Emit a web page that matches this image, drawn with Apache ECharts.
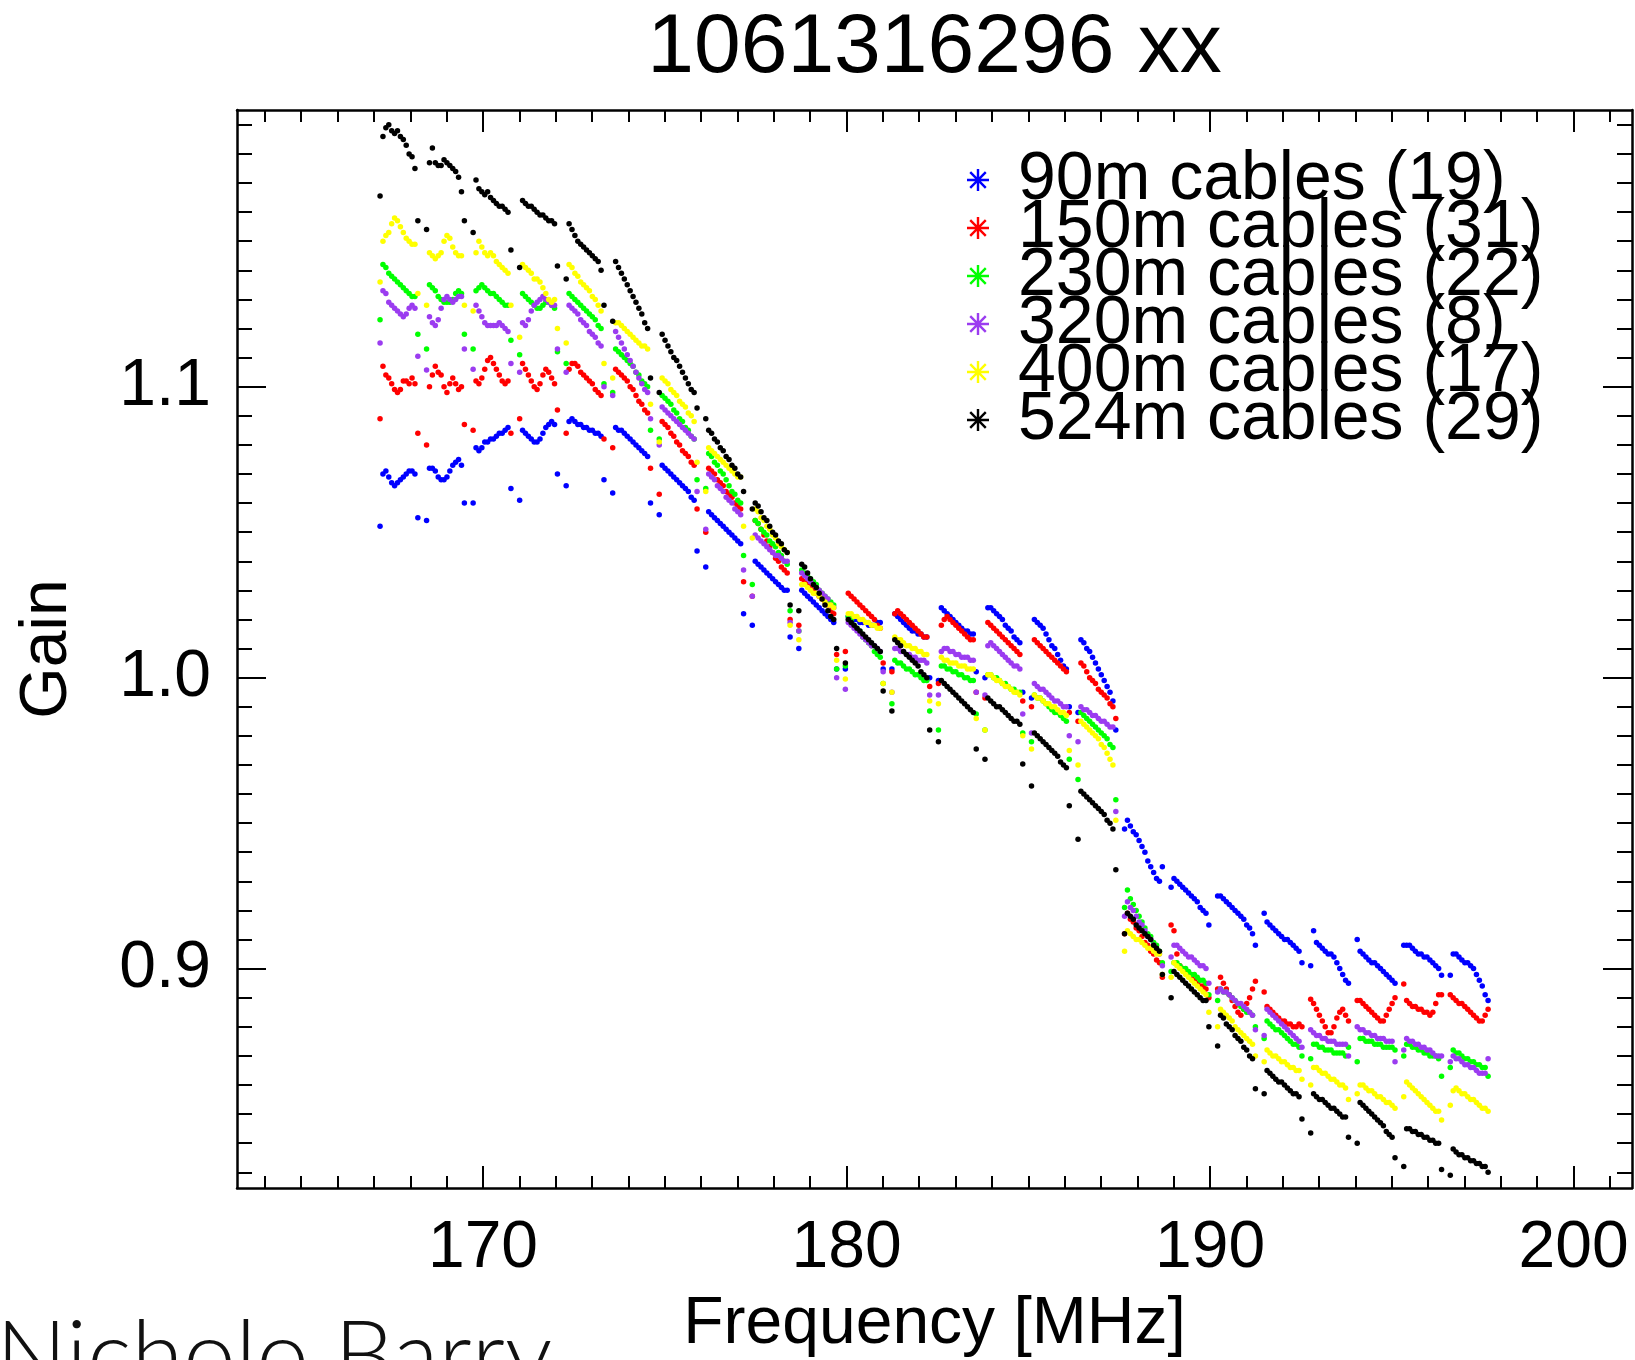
<!DOCTYPE html>
<html><head><meta charset="utf-8">
<script src="https://cdn.jsdelivr.net/npm/echarts@6/dist/echarts.min.js"></script>
<style>html,body{margin:0;padding:0;background:#fff}#c{width:1635px;height:1360px}</style>
</head><body><div id="c"></div>
<script>
// ---- categories: channel grid (coarse channel start + fine channel offsets, MHz)
const coarseStart = [167.048,168.328,169.608,170.888,172.168,173.448,174.728,176.008,177.288,178.568,179.848,181.128,182.408,183.688,184.968,186.248,187.528,188.808,190.088,191.368,192.648,193.928,195.208,196.488];
const fineOffset = [0.12,0.20,0.28,0.36,0.44,0.52,0.60,0.68,0.76,0.84,0.92,1.00,1.08,1.16];

const seriesNames = ['90m cables (19)','150m cables (31)','230m cables (22)','320m cables (8)','400m cables (17)','524m cables (29)'];
const seriesColors = ['#0000ff','#ff0000','#00ff00','#9b3cf0','#ffff00','#000000'];

const xTickLabels = [170,180,190,200];
const yTickLabels = [0.9,1.0,1.1];

// ---- gains, one row per coarse channel
const gain90m = [
[1.052,1.070,1.071,1.069,1.067,1.066,1.067,1.068,1.069,1.070,1.071,1.071,1.070,1.055],
[1.054,1.072,1.072,1.071,1.069,1.068,1.068,1.069,1.071,1.073,1.074,1.075,1.073,1.060],
[1.060,1.079,1.078,1.079,1.081,1.081,1.082,1.082,1.083,1.084,1.084,1.085,1.086,1.065],
[1.061,1.085,1.084,1.083,1.082,1.081,1.081,1.082,1.084,1.086,1.087,1.088,1.087,1.070],
[1.066,1.088,1.089,1.088,1.087,1.087,1.086,1.086,1.085,1.085,1.084,1.084,1.083,1.068],
[1.0635,1.086,1.085,1.085,1.084,1.083,1.082,1.081,1.080,1.079,1.078,1.077,1.076,1.060],
[1.056,1.073,1.072,1.071,1.070,1.069,1.068,1.067,1.066,1.065,1.064,1.062,1.061,1.0435],
[1.038,1.057,1.056,1.055,1.054,1.053,1.052,1.051,1.050,1.049,1.048,1.047,1.046,1.022],
[1.018,1.040,1.039,1.038,1.037,1.036,1.035,1.034,1.033,1.032,1.031,1.030,1.030,1.014],
[1.010,1.030,1.029,1.028,1.027,1.026,1.025,1.024,1.023,1.022,1.021,1.020,1.019,1.003],
[1.003,1.021,1.021,1.020,1.020,1.019,1.019,1.019,1.018,1.018,1.018,1.019,1.019,1.003],
[1.003,1.022,1.021,1.020,1.019,1.018,1.017,1.016,1.016,1.015,1.015,1.014,1.014,1.000],
[0.999,1.024,1.023,1.022,1.021,1.020,1.019,1.018,1.017,1.016,1.016,1.015,1.015,1.002],
[1.000,1.024,1.024,1.023,1.022,1.021,1.020,1.018,1.017,1.016,1.014,1.013,1.012,0.995],
[0.993,1.020,1.019,1.018,1.017,1.015,1.013,1.011,1.010,1.008,1.006,1.004,1.003,0.990],
[0.988,1.013,1.012,1.010,1.009,1.007,1.005,1.003,1.001,0.999,0.997,0.995,0.992,0.982],
[0.948,0.951,0.949,0.947,0.946,0.944,0.942,0.940,0.937,0.935,0.933,0.931,0.930,0.935],
[0.928,0.931,0.930,0.929,0.928,0.927,0.926,0.925,0.924,0.923,0.921,0.920,0.919,0.915],
[0.925,0.925,0.924,0.923,0.922,0.921,0.920,0.919,0.918,0.917,0.915,0.914,0.912,0.908],
[0.919,0.916,0.915,0.914,0.913,0.912,0.911,0.910,0.910,0.909,0.908,0.907,0.906,0.902],
[0.901,0.913,0.909,0.908,0.907,0.906,0.905,0.905,0.904,0.902,0.900,0.898,0.896,0.895],
[0.910,0.906,0.905,0.904,0.903,0.902,0.902,0.901,0.900,0.899,0.898,0.897,0.896,0.895],
[0.908,0.908,0.908,0.907,0.906,0.905,0.905,0.904,0.904,0.903,0.902,0.901,0.900,0.8977],
[0.8977,0.905,0.905,0.904,0.903,0.902,0.902,0.901,0.900,0.898,0.896,0.894,0.891,0.889]
];
const gain150m = [
[1.089,1.107,1.104,1.103,1.101,1.099,1.098,1.099,1.102,1.102,1.101,1.103,1.101,1.084],
[1.080,1.100,1.104,1.107,1.105,1.104,1.100,1.098,1.101,1.103,1.101,1.099,1.100,1.087],
[1.085,1.102,1.101,1.103,1.106,1.109,1.110,1.108,1.106,1.104,1.102,1.101,1.102,1.084],
[1.089,1.108,1.106,1.104,1.102,1.100,1.099,1.101,1.104,1.106,1.105,1.103,1.101,1.092],
[1.084,1.106,1.108,1.108,1.107,1.105,1.104,1.103,1.102,1.101,1.099,1.098,1.097,1.082],
[1.079,1.106,1.105,1.104,1.103,1.102,1.100,1.099,1.097,1.095,1.094,1.092,1.091,1.072],
[1.063,1.088,1.087,1.086,1.084,1.083,1.081,1.080,1.078,1.077,1.076,1.074,1.073,1.058],
[1.050,1.072,1.071,1.070,1.068,1.067,1.066,1.064,1.063,1.062,1.060,1.059,1.058,1.033],
[1.028,1.054,1.053,1.051,1.049,1.047,1.045,1.043,1.041,1.040,1.038,1.037,1.036,1.020],
[1.018,1.034,1.033,1.032,1.031,1.030,1.029,1.028,1.027,1.026,1.025,1.023,1.022,1.008],
[1.009,1.029,1.028,1.027,1.026,1.025,1.024,1.023,1.022,1.021,1.020,1.018,1.017,1.005],
[1.002,1.022,1.023,1.022,1.021,1.020,1.019,1.018,1.017,1.016,1.015,1.014,1.014,0.997],
[0.998,1.018,1.020,1.021,1.020,1.019,1.018,1.017,1.016,1.015,1.014,1.013,1.013,0.995],
[0.993,1.019,1.018,1.017,1.016,1.015,1.014,1.013,1.012,1.011,1.010,1.009,1.008,0.992],
[0.990,1.013,1.012,1.011,1.010,1.009,1.008,1.007,1.006,1.005,1.004,1.003,1.002,0.988],
[0.985,1.005,1.004,1.002,1.000,0.999,0.998,0.996,0.995,0.994,0.993,0.991,0.990,0.986],
[0.912,0.919,0.917,0.916,0.914,0.913,0.911,0.909,0.908,0.906,0.905,0.903,0.902,0.897],
[0.915,0.913,0.905,0.901,0.900,0.899,0.898,0.897,0.896,0.895,0.894,0.894,0.893,0.890],
[0.893,0.897,0.895,0.893,0.891,0.889,0.887,0.885,0.884,0.886,0.888,0.890,0.893,0.8957],
[0.892,0.887,0.886,0.885,0.884,0.883,0.882,0.882,0.881,0.881,0.880,0.880,0.881,0.880],
[0.8895,0.888,0.886,0.884,0.882,0.880,0.878,0.878,0.880,0.883,0.885,0.886,0.884,0.882],
[0.889,0.889,0.888,0.887,0.886,0.885,0.884,0.883,0.882,0.882,0.884,0.886,0.888,0.890],
[0.8947,0.889,0.888,0.887,0.887,0.886,0.886,0.885,0.885,0.884,0.885,0.888,0.891,0.891],
[0.891,0.890,0.889,0.888,0.888,0.887,0.886,0.885,0.884,0.883,0.882,0.882,0.884,0.886]
];
const gain230m = [
[1.123,1.142,1.141,1.139,1.138,1.137,1.136,1.135,1.134,1.133,1.132,1.131,1.131,1.118],
[1.113,1.135,1.134,1.133,1.131,1.130,1.129,1.129,1.129,1.130,1.132,1.133,1.132,1.118],
[1.113,1.133,1.134,1.135,1.134,1.133,1.132,1.132,1.131,1.130,1.129,1.128,1.128,1.116],
[1.111,1.132,1.131,1.130,1.129,1.128,1.127,1.127,1.128,1.129,1.129,1.128,1.127,1.112],
[1.108,1.132,1.131,1.130,1.129,1.128,1.127,1.126,1.125,1.124,1.123,1.121,1.120,1.101],
[1.098,1.113,1.112,1.111,1.110,1.109,1.108,1.107,1.105,1.104,1.102,1.101,1.100,1.085],
[1.082,1.097,1.096,1.095,1.094,1.092,1.091,1.089,1.088,1.086,1.085,1.083,1.082,1.068],
[1.065,1.077,1.076,1.074,1.073,1.071,1.070,1.068,1.066,1.064,1.063,1.061,1.060,1.042],
[1.032,1.054,1.053,1.051,1.050,1.049,1.047,1.046,1.045,1.043,1.042,1.040,1.039,1.023],
[1.016,1.037,1.036,1.035,1.034,1.033,1.032,1.030,1.029,1.028,1.027,1.026,1.025,1.003],
[1.004,1.021,1.020,1.018,1.017,1.016,1.014,1.013,1.012,1.011,1.009,1.008,1.007,0.998],
[0.991,1.006,1.005,1.005,1.004,1.003,1.003,1.002,1.001,1.001,1.000,0.999,0.999,0.9885],
[0.982,1.004,1.004,1.003,1.003,1.002,1.002,1.001,1.001,1.000,1.000,0.999,0.999,0.9875],
[0.982,1.001,1.001,1.000,1.000,0.999,0.998,0.998,0.997,0.996,0.996,0.995,0.995,0.981],
[0.978,0.994,0.993,0.993,0.992,0.991,0.990,0.989,0.988,0.988,0.987,0.986,0.985,0.972],
[0.965,0.988,0.987,0.986,0.985,0.984,0.983,0.982,0.981,0.980,0.979,0.977,0.976,0.958],
[0.921,0.927,0.924,0.922,0.920,0.918,0.916,0.914,0.912,0.911,0.909,0.908,0.906,0.902],
[0.899,0.902,0.902,0.901,0.900,0.900,0.899,0.898,0.898,0.897,0.896,0.896,0.895,0.891],
[0.889,0.893,0.892,0.892,0.891,0.890,0.889,0.888,0.887,0.886,0.885,0.885,0.884,0.880],
[0.876,0.882,0.881,0.880,0.879,0.879,0.878,0.877,0.876,0.875,0.874,0.874,0.873,0.870],
[0.869,0.874,0.874,0.873,0.873,0.872,0.872,0.872,0.871,0.871,0.871,0.871,0.870,0.873],
[0.868,0.876,0.876,0.875,0.875,0.875,0.874,0.874,0.874,0.873,0.873,0.873,0.873,0.872],
[0.870,0.874,0.874,0.873,0.873,0.872,0.872,0.871,0.871,0.870,0.870,0.870,0.869,0.863],
[0.866,0.872,0.871,0.871,0.870,0.869,0.869,0.868,0.868,0.867,0.867,0.866,0.866,0.863]
];
const gain320m = [
[1.115,1.133,1.132,1.129,1.128,1.127,1.126,1.125,1.124,1.125,1.127,1.128,1.127,1.1105],
[1.1057,1.124,1.122,1.121,1.123,1.127,1.130,1.131,1.130,1.129,1.130,1.131,1.131,1.113],
[1.106,1.128,1.126,1.124,1.122,1.121,1.121,1.121,1.121,1.122,1.121,1.120,1.119,1.108],
[1.105,1.122,1.121,1.123,1.126,1.128,1.129,1.130,1.131,1.130,1.129,1.128,1.128,1.113],
[1.105,1.128,1.127,1.126,1.125,1.123,1.122,1.121,1.119,1.118,1.117,1.115,1.114,1.100],
[1.097,1.119,1.117,1.115,1.113,1.111,1.109,1.107,1.105,1.103,1.101,1.099,1.098,1.089],
[1.080,1.093,1.092,1.091,1.090,1.089,1.088,1.087,1.086,1.085,1.084,1.083,1.082,1.064],
[1.051,1.070,1.069,1.068,1.066,1.065,1.064,1.062,1.061,1.060,1.058,1.057,1.056,1.037],
[1.028,1.049,1.048,1.047,1.046,1.045,1.044,1.043,1.042,1.042,1.041,1.040,1.040,1.019],
[1.016,1.036,1.035,1.034,1.033,1.032,1.031,1.030,1.029,1.028,1.027,1.025,1.024,1.000],
[0.996,1.019,1.018,1.017,1.016,1.015,1.014,1.013,1.012,1.011,1.011,1.010,1.009,1.002],
[0.995,1.010,1.010,1.009,1.009,1.008,1.008,1.007,1.007,1.006,1.006,1.006,1.005,0.994],
[0.994,1.009,1.010,1.010,1.009,1.009,1.008,1.008,1.007,1.007,1.007,1.006,1.006,0.995],
[0.994,1.011,1.012,1.011,1.010,1.009,1.008,1.007,1.006,1.005,1.004,1.004,1.003,0.9875],
[0.981,0.998,0.997,0.996,0.996,0.995,0.994,0.993,0.992,0.992,0.991,0.990,0.990,0.980],
[0.978,0.990,0.989,0.989,0.988,0.987,0.987,0.986,0.985,0.985,0.984,0.983,0.983,0.954],
[0.918,0.923,0.921,0.920,0.918,0.916,0.915,0.913,0.911,0.910,0.908,0.906,0.905,0.901],
[0.904,0.908,0.908,0.907,0.906,0.905,0.904,0.904,0.903,0.902,0.901,0.901,0.900,0.895],
[0.892,0.893,0.892,0.892,0.891,0.890,0.889,0.888,0.888,0.887,0.886,0.885,0.884,0.879],
[0.877,0.886,0.885,0.884,0.883,0.882,0.881,0.880,0.879,0.878,0.877,0.876,0.875,0.873],
[0.879,0.878,0.877,0.877,0.876,0.876,0.875,0.875,0.875,0.874,0.874,0.874,0.874,0.870],
[0.880,0.879,0.879,0.878,0.878,0.877,0.877,0.876,0.876,0.876,0.875,0.875,0.875,0.868],
[0.872,0.876,0.875,0.875,0.874,0.874,0.873,0.873,0.872,0.872,0.871,0.870,0.870,0.870],
[0.868,0.870,0.869,0.869,0.868,0.867,0.867,0.866,0.866,0.865,0.864,0.864,0.864,0.869]
];
const gain400m = [
[1.136,1.150,1.152,1.153,1.156,1.158,1.157,1.155,1.153,1.151,1.150,1.149,1.149,1.132],
[1.128,1.146,1.145,1.144,1.145,1.146,1.150,1.152,1.151,1.148,1.146,1.145,1.145,1.128],
[1.126,1.146,1.150,1.148,1.146,1.145,1.146,1.145,1.143,1.142,1.141,1.140,1.139,1.128],
[1.117,1.142,1.141,1.140,1.139,1.137,1.137,1.136,1.134,1.132,1.130,1.129,1.130,1.120],
[1.115,1.142,1.141,1.139,1.138,1.136,1.135,1.134,1.133,1.131,1.130,1.128,1.126,1.108],
[1.103,1.122,1.122,1.121,1.120,1.119,1.118,1.117,1.116,1.115,1.114,1.114,1.113,1.094],
[1.081,1.103,1.102,1.101,1.099,1.098,1.097,1.095,1.094,1.093,1.091,1.090,1.088,1.074],
[1.064,1.079,1.078,1.077,1.076,1.075,1.074,1.073,1.072,1.071,1.070,1.069,1.069,1.052],
[1.048,1.058,1.057,1.055,1.054,1.052,1.051,1.049,1.048,1.046,1.045,1.044,1.043,1.018],
[1.013,1.032,1.032,1.031,1.030,1.029,1.029,1.028,1.027,1.026,1.025,1.025,1.024,1.006],
[0.9995,1.022,1.022,1.021,1.021,1.020,1.020,1.019,1.019,1.018,1.018,1.017,1.017,0.998],
[0.995,1.014,1.013,1.013,1.012,1.011,1.011,1.010,1.010,1.009,1.009,1.008,1.008,0.992],
[0.991,1.007,1.006,1.006,1.005,1.005,1.005,1.004,1.004,1.004,1.003,1.003,1.003,0.986],
[0.982,1.001,1.001,1.000,0.999,0.999,0.998,0.997,0.997,0.996,0.995,0.995,0.994,0.980],
[0.9755,0.994,0.993,0.993,0.992,0.991,0.991,0.990,0.990,0.989,0.988,0.988,0.987,0.975],
[0.970,0.985,0.984,0.983,0.982,0.981,0.980,0.979,0.977,0.976,0.974,0.972,0.970,0.951],
[0.906,0.913,0.912,0.911,0.910,0.910,0.909,0.908,0.907,0.907,0.906,0.905,0.905,0.898],
[0.897,0.902,0.901,0.900,0.899,0.898,0.897,0.896,0.895,0.894,0.893,0.892,0.891,0.885],
[0.880,0.886,0.885,0.884,0.883,0.882,0.880,0.879,0.878,0.877,0.876,0.875,0.874,0.870],
[0.868,0.872,0.871,0.870,0.870,0.869,0.868,0.868,0.867,0.866,0.866,0.865,0.865,0.862],
[0.860,0.866,0.866,0.865,0.864,0.864,0.863,0.862,0.862,0.861,0.860,0.860,0.859,0.855],
[0.857,0.860,0.860,0.859,0.858,0.858,0.857,0.856,0.856,0.855,0.854,0.854,0.853,0.852],
[0.856,0.861,0.860,0.859,0.858,0.857,0.856,0.855,0.854,0.853,0.852,0.851,0.851,0.848],
[0.853,0.858,0.859,0.858,0.857,0.857,0.856,0.855,0.855,0.854,0.853,0.852,0.852,0.851]
];
const gain524m = [
[1.1655,1.186,1.189,1.190,1.188,1.187,1.188,1.186,1.185,1.183,1.180,1.179,1.175,1.157],
[1.154,1.177,1.182,1.177,1.176,1.176,1.178,1.177,1.176,1.175,1.174,1.172,1.167,1.157],
[1.153,1.171,1.168,1.167,1.166,1.167,1.165,1.164,1.163,1.162,1.162,1.161,1.160,1.147],
[1.141,1.164,1.163,1.162,1.162,1.161,1.160,1.159,1.159,1.158,1.157,1.157,1.156,1.1415],
[1.137,1.156,1.154,1.152,1.150,1.149,1.148,1.147,1.146,1.145,1.144,1.143,1.140,1.128],
[1.1225,1.143,1.141,1.139,1.137,1.135,1.133,1.131,1.129,1.127,1.125,1.122,1.120,1.103],
[1.098,1.118,1.116,1.114,1.112,1.110,1.109,1.107,1.105,1.103,1.101,1.099,1.098,1.0927],
[1.089,1.085,1.084,1.082,1.081,1.079,1.078,1.076,1.075,1.073,1.072,1.070,1.069,1.064],
[1.058,1.060,1.059,1.057,1.055,1.054,1.052,1.050,1.049,1.047,1.046,1.044,1.043,1.025],
[1.023,1.039,1.038,1.036,1.034,1.032,1.031,1.029,1.027,1.025,1.023,1.021,1.020,1.010],
[1.005,1.020,1.019,1.018,1.017,1.016,1.015,1.014,1.013,1.012,1.011,1.010,1.009,0.9954],
[0.9885,1.013,1.012,1.011,1.009,1.008,1.007,1.006,1.005,1.004,1.002,1.001,1.000,0.982],
[0.978,0.999,0.998,0.997,0.996,0.995,0.994,0.993,0.992,0.991,0.990,0.989,0.988,0.9755],
[0.972,0.993,0.992,0.991,0.990,0.990,0.989,0.988,0.987,0.986,0.985,0.985,0.984,0.9703],
[0.9628,0.981,0.980,0.979,0.978,0.977,0.976,0.975,0.974,0.973,0.971,0.970,0.969,0.956],
[0.9445,0.961,0.960,0.959,0.958,0.957,0.956,0.955,0.954,0.953,0.951,0.950,0.948,0.934],
[0.912,0.919,0.918,0.917,0.915,0.914,0.913,0.912,0.911,0.910,0.908,0.907,0.906,0.898],
[0.890,0.899,0.898,0.897,0.896,0.895,0.894,0.893,0.892,0.891,0.890,0.889,0.889,0.880],
[0.8734,0.884,0.883,0.881,0.880,0.879,0.877,0.876,0.875,0.873,0.872,0.870,0.869,0.8587],
[0.857,0.865,0.864,0.863,0.862,0.861,0.861,0.860,0.859,0.858,0.857,0.857,0.856,0.8483],
[0.8435,0.857,0.856,0.855,0.855,0.854,0.853,0.852,0.852,0.851,0.850,0.849,0.849,0.842],
[0.840,0.854,0.853,0.852,0.851,0.850,0.849,0.848,0.847,0.846,0.844,0.843,0.842,0.835],
[0.832,0.845,0.845,0.844,0.844,0.843,0.843,0.842,0.842,0.841,0.841,0.840,0.840,0.831],
[0.829,0.838,0.837,0.836,0.836,0.835,0.835,0.834,0.834,0.833,0.833,0.832,0.832,0.830]
];
const seriesGains = [gain90m, gain150m, gain230m, gain320m, gain400m, gain524m];

// ---- build chart
const FONT = '"Liberation Sans", Arial, Helvetica, sans-serif';
const X_MIN = 163.233, X_MAX = 201.607, Y_MIN = 0.8246, Y_MAX = 1.1951;
const xMinorTicks = []; for (let v = 164; v <= 201; v++) xMinorTicks.push(v);
const yMinorTicks = []; for (let i = 83; i <= 119; i++) yMinorTicks.push(+(i / 100).toFixed(2));

function buildPoints(rows) {
  const pts = [];
  rows.forEach((row, k) => row.forEach((g, j) => {
    if (g != null) pts.push([+(coarseStart[k] + fineOffset[j]).toFixed(3), g]);
  }));
  return pts;
}

const STAR = 'path://M-1.1,-10L1.1,-10L1.1,10L-1.1,10Z M-10,-1.1L10,-1.1L10,1.1L-10,1.1Z M-6.29,-7.85L7.85,6.29L6.29,7.85L-7.85,-6.29Z M-7.85,6.29L6.29,-7.85L7.85,-6.29L-6.29,7.85Z';

function xAx(position, ticks, len, showLine, showLabel, name) {
  return {
    type: 'value', gridIndex: 0, position, min: X_MIN, max: X_MAX,
    name: name || '', nameLocation: 'middle', nameGap: 104,
    nameTextStyle: { fontSize: 66, fontFamily: FONT, color: '#000', lineHeight: 66 },
    axisLine: { show: showLine, onZero: false, lineStyle: { color: '#000', width: 2.5 } },
    axisTick: { show: true, inside: true, length: len, customValues: ticks, lineStyle: { color: '#000', width: 2 } },
    axisLabel: { show: showLabel, customValues: xTickLabels, margin: 28, fontSize: 66, fontFamily: FONT, color: '#000', lineHeight: 66 },
    splitLine: { show: false }
  };
}
function yAx(position, ticks, len, showLine, showLabel, name) {
  return {
    type: 'value', gridIndex: 0, position, min: Y_MIN, max: Y_MAX,
    name: name || '', nameLocation: 'middle', nameGap: 156, nameRotate: 90,
    nameTextStyle: { fontSize: 66, fontFamily: FONT, color: '#000', lineHeight: 66 },
    axisLine: { show: showLine, onZero: false, lineStyle: { color: '#000', width: 2.5 } },
    axisTick: { show: true, inside: true, length: len, customValues: ticks, lineStyle: { color: '#000', width: 2 } },
    axisLabel: { show: showLabel, customValues: yTickLabels, margin: 26, fontSize: 66, fontFamily: FONT, color: '#000',
      formatter: v => Number(v).toFixed(1) },
    splitLine: { show: false }
  };
}

const chart = echarts.init(document.getElementById('c'), null, { renderer: 'canvas', width: 1635, height: 1360 });
chart.setOption({
  animation: false,
  backgroundColor: '#fff',
  grid: { left: 237, right: 3, top: 110, bottom: 172, containLabel: false, outerBoundsMode: 'none' },
  xAxis: [
    xAx('bottom', xTickLabels, 22, true, true, 'Frequency [MHz]'),
    xAx('bottom', xMinorTicks, 12, false, false),
    xAx('top', xTickLabels, 22, true, false),
    xAx('top', xMinorTicks, 12, false, false)
  ],
  yAxis: [
    yAx('left', yTickLabels, 29, true, true, 'Gain'),
    yAx('left', yMinorTicks, 15, false, false),
    yAx('right', yTickLabels, 29, true, false),
    yAx('right', yMinorTicks, 15, false, false)
  ],
  legend: {
    orient: 'vertical', left: 967, top: 146, padding: 0, itemGap: -20,
    itemWidth: 70, itemHeight: 22, icon: STAR, selectedMode: false,
    textStyle: { fontSize: 68, fontFamily: FONT, color: '#000', lineHeight: 48 },
    data: seriesNames
  },
  graphic: [
    { type: 'text', x: 934.5, y: 49, silent: true,
      style: { text: '1061316296 xx', fontSize: 84, fontFamily: FONT, fill: '#000', align: 'center', verticalAlign: 'middle' } },
    { type: 'text', x: -4, y: 1358, silent: true,
      style: { text: 'Nicholo Barry', fontSize: 94, fontFamily: 'Lato, "Open Sans", sans-serif', fontWeight: 300, fill: '#111', align: 'left', verticalAlign: 'middle' } }
  ],
  series: seriesNames.map((n, i) => ({
    type: 'scatter', name: n, xAxisIndex: 0, yAxisIndex: 0,
    data: buildPoints(seriesGains[i]),
    symbol: 'circle', symbolSize: 5.5, silent: true,
    itemStyle: { color: seriesColors[i], opacity: 1 },
    emphasis: { disabled: true }
  }))
});
</script>
</body></html>
